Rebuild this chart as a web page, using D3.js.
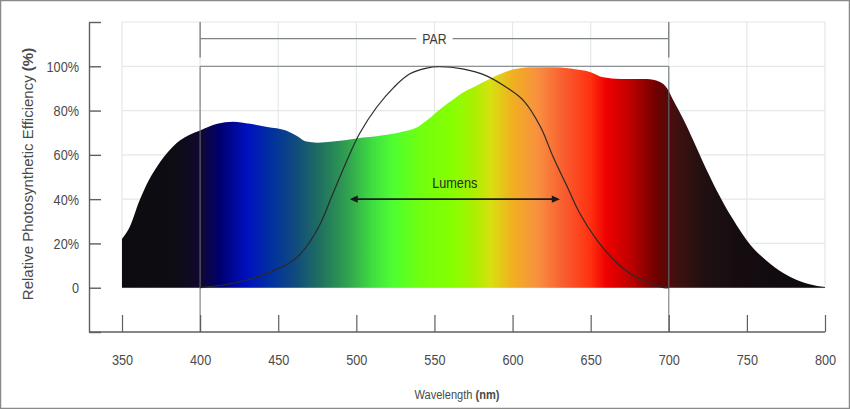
<!DOCTYPE html>
<html>
<head>
<meta charset="utf-8">
<script src="https://cdn.jsdelivr.net/npm/d3@7"></script>
<style>
  html, body { margin: 0; padding: 0; background: #fff; }
  svg { display: block; font-family: "Liberation Sans", Arial, Helvetica, sans-serif; }
</style>
</head>
<body>
<svg id="chart" width="850" height="409"></svg>
<script>
// ---- Data ----
const spectrumNm  = [350, 355, 361, 365, 370, 379, 387, 393, 400, 411, 421, 432, 443, 455, 462, 468, 475, 485, 500, 517, 530, 539, 545, 550, 556, 562, 568, 575, 586, 600, 611, 625, 637, 650, 658, 669, 686, 694, 699, 703, 709, 716, 722, 731, 741, 752, 763, 773, 784, 795, 800];
const spectrumVal = [22, 27.5, 39, 45.5, 52, 61, 66.5, 69, 71, 74, 75, 74, 72.6, 71, 68.5, 66, 65.5, 66, 67.4, 68.8, 70.5, 72.5, 75.5, 78.5, 82, 85, 88, 90.5, 94.5, 98.5, 99.6, 99.6, 99, 97.3, 95, 94.3, 94.3, 93, 90, 84.5, 76.5, 66, 56.5, 43.5, 31, 19.5, 12, 6.8, 2.9, 0.8, 0.3];

const lumensNm  = [400, 421, 443, 460, 468, 477, 485, 494, 502, 513, 524, 534, 545, 553, 568, 583, 596, 607, 618, 626, 635, 643, 654, 665, 675, 688, 697, 700];
const lumensVal = [0, 2, 6.5, 12.5, 18.5, 29, 42.5, 57.5, 69.5, 81.5, 90.5, 96.5, 99.2, 99.8, 98.8, 95.8, 90.5, 84.5, 72.5, 59, 45.6, 33.6, 21.5, 12.5, 6.5, 2, 0, 0];

const colorNm  = [350, 385, 400, 413, 430, 445, 460, 477, 494, 511, 524, 541, 562, 575, 586, 600, 616, 632, 650, 660, 675, 692, 705, 722, 744, 800];
const colorHex = ["#0c0c10", "#0e0c14", "#100830", "#000070", "#0010c0", "#0030a0", "#104880", "#207060", "#30a050", "#40e040", "#50ff30", "#70ff10", "#88ff00", "#a8f000", "#d8e010", "#f0b020", "#f89040", "#f86030", "#ff3010", "#f00000", "#c00000", "#700000", "#401010", "#201010", "#150c10", "#0c0a0e"];

const xTicks = [350, 400, 450, 500, 550, 600, 650, 700, 750, 800];
const yTicks = [-20, 0, 20, 40, 60, 80, 100, 120];
const yTickLabels = ["", "0", "20%", "40%", "60%", "80%", "100%", ""];

const parRange = [400, 700];
const lumensArrow = [496, 630];
const lumensArrowLevel = 40;
const parBracketLevel = 112.5;
const parBracketTop = 120;
const parBracketBottom = 104;

// ---- Chart ----
const svg = d3.select("#chart");
const x = d3.scaleLinear().domain([350, 800]).range([122, 825]);
const y = d3.scaleLinear().domain([-20, 120]).range([332, 22]);
const axisX = 89;
const NARROW = 0.82;
const textColor = "#4a4a4a";
const axisColor = "#5a5f60";
const gridColor = "#e4e8e8";

function narrowText(px, py, size, anchor, color) {
  return svg.append("g").attr("transform", `translate(${px},${py}) scale(${NARROW},1)`)
    .append("text").attr("text-anchor", anchor).attr("font-size", size).attr("fill", color);
}

// border
svg.append("rect").attr("x", 0.5).attr("y", 0.5).attr("width", 849).attr("height", 408)
  .attr("fill", "#fff").attr("stroke", "#8a8a8a").attr("stroke-width", 1.5);

// gradient
const defs = svg.append("defs");
const grad = defs.append("linearGradient").attr("id", "spec")
  .attr("gradientUnits", "userSpaceOnUse")
  .attr("x1", x(350)).attr("x2", x(800)).attr("y1", 0).attr("y2", 0);
colorNm.forEach((nm, i) => {
  grad.append("stop").attr("offset", (nm - 350) / 450).attr("stop-color", colorHex[i]);
});

// arrow markers
const mk = (id, path) => defs.append("marker").attr("id", id)
  .attr("viewBox", "0 0 10 10").attr("refX", 5).attr("refY", 5)
  .attr("markerWidth", 9).attr("markerHeight", 9).attr("markerUnits", "userSpaceOnUse")
  .attr("orient", "auto").append("path").attr("d", path).attr("fill", "#1a1a1a");
mk("arrEnd", "M1,1 L10,5 L1,9 Z");
mk("arrStart", "M9,1 L0,5 L9,9 Z");

// grid
const gridG = svg.append("g");
gridG.selectAll("line.h").data(yTicks.filter(v => v >= 0)).join("line")
  .attr("x1", x(350)).attr("x2", x(800))
  .attr("y1", d => y(d)).attr("y2", d => y(d))
  .attr("stroke", gridColor).attr("stroke-width", 1.2);
gridG.selectAll("line.v").data(xTicks).join("line")
  .attr("x1", d => x(d)).attr("x2", d => x(d))
  .attr("y1", y(120)).attr("y2", y(0))
  .attr("stroke", gridColor).attr("stroke-width", 1.2);

// PAR box top
svg.append("line").attr("x1", x(parRange[0])).attr("x2", x(parRange[1]))
  .attr("y1", y(100)).attr("y2", y(100)).attr("stroke", "#8d9394").attr("stroke-width", 1.3);

// spectrum area
const spectrum = spectrumNm.map((d, i) => ({ nm: d, v: spectrumVal[i] }));
const area = d3.area().x(d => x(d.nm)).y0(y(0)).y1(d => y(d.v)).curve(d3.curveMonotoneX);
svg.append("path").datum(spectrum).attr("d", area).attr("fill", "url(#spec)");

// PAR verticals
parRange.forEach(nm => {
  svg.append("line").attr("x1", x(nm)).attr("x2", x(nm)).attr("y1", y(100)).attr("y2", y(-20))
    .attr("stroke", "#6d7374").attr("stroke-width", 1.2).attr("opacity", 0.85);
  svg.append("line").attr("x1", x(nm)).attr("x2", x(nm)).attr("y1", y(parBracketTop)).attr("y2", y(parBracketBottom))
    .attr("stroke", "#6d7374").attr("stroke-width", 1.2);
});

// PAR bracket + label
const parLabel = narrowText(x(550), y(parBracketLevel) + 5.5, 15, "middle", "#3a3a3a").text("PAR");
const parW = parLabel.node().getComputedTextLength() * NARROW;
svg.append("line").attr("x1", x(parRange[0])).attr("x2", x(550) - parW / 2 - 6)
  .attr("y1", y(parBracketLevel)).attr("y2", y(parBracketLevel)).attr("stroke", "#7d8384").attr("stroke-width", 1.2);
svg.append("line").attr("x1", x(550) + parW / 2 + 6).attr("x2", x(parRange[1]))
  .attr("y1", y(parBracketLevel)).attr("y2", y(parBracketLevel)).attr("stroke", "#7d8384").attr("stroke-width", 1.2);

// lumens curve
const lumens = lumensNm.map((d, i) => ({ nm: d, v: lumensVal[i] }));
const line = d3.line().x(d => x(d.nm)).y(d => y(d.v)).curve(d3.curveCatmullRom.alpha(0.5));
svg.append("path").datum(lumens).attr("d", line).attr("fill", "none")
  .attr("stroke", "#2a2a2a").attr("stroke-width", 1.2);

// lumens arrow
svg.append("line").attr("x1", x(lumensArrow[0]) + 4).attr("x2", x(lumensArrow[1]) - 4)
  .attr("y1", y(lumensArrowLevel)).attr("y2", y(lumensArrowLevel))
  .attr("stroke", "#1a1a1a").attr("stroke-width", 1.6)
  .attr("marker-start", "url(#arrStart)").attr("marker-end", "url(#arrEnd)");
narrowText(x(563), y(lumensArrowLevel) - 11, 15.5, "middle", "#2a2a2a").text("Lumens");

// x axis
const xAxis = d3.axisBottom(x).tickValues(xTicks).tickSizeInner(-17).tickSizeOuter(0).tickPadding(22)
  .tickFormat(d3.format("d"));
const gx = svg.append("g").attr("transform", `translate(0,${y(-20)})`).call(xAxis);
gx.select(".domain").remove();
gx.selectAll(".tick line").attr("stroke", axisColor).attr("stroke-width", 1.2);
gx.selectAll(".tick text").attr("font-family", "Liberation Sans, Arial, sans-serif")
  .attr("font-size", 15.5).attr("fill", textColor).attr("transform", `scale(${NARROW},1)`);
svg.append("line").attr("x1", axisX).attr("x2", x(800)).attr("y1", y(-20)).attr("y2", y(-20))
  .attr("stroke", axisColor).attr("stroke-width", 1.4);

// y axis
const yAxis = d3.axisLeft(y).tickValues(yTicks).tickSizeInner(-12).tickSizeOuter(0).tickPadding(10)
  .tickFormat((d, i) => yTickLabels[i]);
const gy = svg.append("g").attr("transform", `translate(${axisX},0)`).call(yAxis);
gy.select(".domain").attr("stroke", axisColor).attr("stroke-width", 1.4);
gy.selectAll(".tick line").attr("stroke", axisColor).attr("stroke-width", 1.4);
gy.selectAll(".tick text").attr("font-family", "Liberation Sans, Arial, sans-serif")
  .attr("font-size", 15.5).attr("fill", textColor)
  .attr("x", -10 / NARROW).attr("transform", `scale(${NARROW},1)`);

// axis titles
const xt = narrowText(457, 399, 13.5, "middle", textColor);
xt.append("tspan").text("Wavelength ");
xt.append("tspan").attr("font-weight", "bold").text("(nm)");

const yt = svg.append("text").attr("transform", "translate(33,174) rotate(-90)")
  .attr("text-anchor", "middle").attr("font-size", 15).attr("fill", textColor);
yt.append("tspan").text("Relative Photosynthetic Efficiency ");
yt.append("tspan").attr("font-weight", "bold").text("(%)");
</script>
</body>
</html>
